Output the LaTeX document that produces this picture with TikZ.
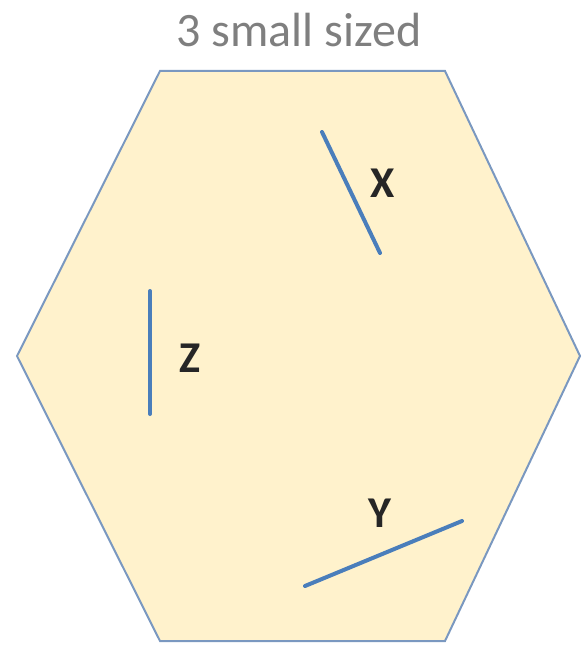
\documentclass[tikz,border=0pt]{standalone}
\usepackage{fontspec}
\setmainfont{Carlito}
\definecolor{cream}{HTML}{FFF2CC}
\definecolor{rim}{HTML}{7A98C0}
\definecolor{rod}{HTML}{4A7EBB}
\definecolor{caption}{HTML}{7F7F7F}
\definecolor{letter}{HTML}{262626}

\begin{document}
\begin{tikzpicture}[x=1pt,y=-1pt,
  rodline/.style={line width=4pt,draw=rod,line cap=round},
  tag/.style={font=\fontsize{44}{50}\selectfont\bfseries,text=letter}]
  \useasboundingbox (0,0) rectangle (582,647);

  \node[anchor=base,text=caption,font=\fontsize{48}{56}\selectfont]
    (title) at (299,47) {3 small sized};

  % The cell: a flat-topped hexagon.
  \draw[fill=cream,draw=rim,line width=2pt,line join=miter]
    (160,71) -- (445,71) -- (580,356) -- (445,641) -- (160,641) -- (17,356)
    -- cycle;

  % Three short rods with their letters.
  \coordinate (xa) at (322,132);
  \coordinate (xb) at (380,253);
  \draw[rodline] (xa) -- (xb);
  \node[tag] (xtag) at (383,183) {X};

  \coordinate (za) at (150,291);
  \coordinate (zb) at (150,414);
  \draw[rodline] (za) -- (zb);
  \node[tag] (ztag) at (190,358) {Z};

  \coordinate (ya) at (305,586);
  \coordinate (yb) at (462,521);
  \draw[rodline] (ya) -- (yb);
  \node[tag] (ytag) at (380,513) {Y};
\end{tikzpicture}
\end{document}
